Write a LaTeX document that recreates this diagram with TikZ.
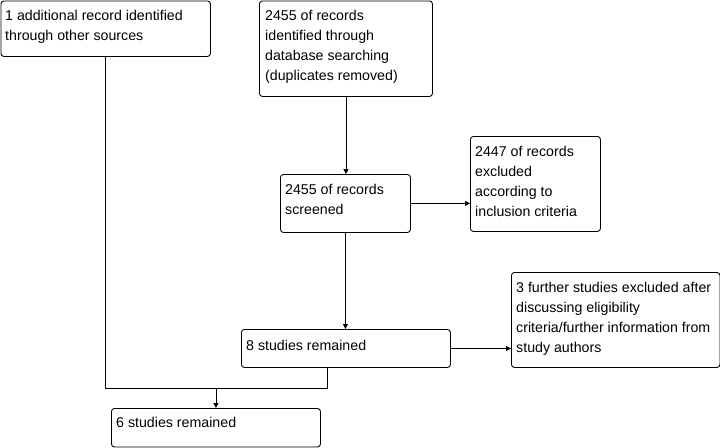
\documentclass[tikz,border=0pt]{standalone}
\usepackage{fontspec}
\setmainfont{Liberation Sans}
\usetikzlibrary{arrows.meta,calc}
\tikzset{
  box/.style={draw=black, line width=0.9pt, rounded corners=3pt, anchor=north west, inner sep=0pt},
  txt/.style={anchor=north west, inner sep=0pt, align=left, font=\fontsize{14.2}{20}\selectfont},
  arr/.style={line width=0.9pt, -{Triangle[length=5pt,width=5pt]}},
  ln/.style={line width=0.9pt}
}
\newcommand{\fl}{\rule{0pt}{20pt}}
\begin{document}
\begin{tikzpicture}[x=1pt,y=-1pt]
\useasboundingbox (0,0) rectangle (720,447);
% boxes
\node[box, minimum width=209.5pt, minimum height=55.5pt] (b1) at (0.5,0.5) {};
\node[box, minimum width=173pt, minimum height=95.5pt] (b2) at (259,0.5) {};
\node[box, minimum width=130pt, minimum height=58pt] (b3) at (280,174) {};
\node[box, minimum width=130pt, minimum height=95pt] (b4) at (470,136) {};
\node[box, minimum width=209pt, minimum height=38pt] (b5) at (241,329) {};
\node[box, minimum width=208.5pt, minimum height=95pt] (b6) at (511,272) {};
\node[box, minimum width=209pt, minimum height=38.5pt] (b7) at (111,408) {};
% texts
\node[txt] (t1) at (5,0) {\fl 1 additional record identified\\through other sources};
\node[txt] (t2) at (265,0) {\fl 2455 of records\\identified through\\database searching\\(duplicates removed)};
\node[txt] (t3) at (285,174) {\fl 2455 of records\\screened};
\node[txt] (t4) at (475,136) {\fl 2447 of records\\excluded\\according to\\inclusion criteria};
\node[txt] (t5) at (246,330) {\fl 8 studies remained};
\node[txt] (t6) at (516,272) {\fl 3 further studies excluded after\\discussing eligibility\\criteria/further information from\\study authors};
\node[txt] (t7) at (116,407) {\fl 6 studies remained};
% connectors
\draw[arr] (b2.south) -- (b2.south |- b3.north);
\draw[arr] (b3.east) -- (b3.east -| b4.west);
\draw[arr] (b3.south) -- (b3.south |- b5.north);
\draw[arr] (b5.east) -- (b5.east -| b6.west);
\coordinate (j) at ($(b5.south west)+(86,21)$);
\coordinate (m) at (b7.north |- j);
\draw[ln] (b1.south) |- (j) -- (j |- b5.south);
\draw[arr] (m) -- (b7.north);
\end{tikzpicture}
\end{document}
